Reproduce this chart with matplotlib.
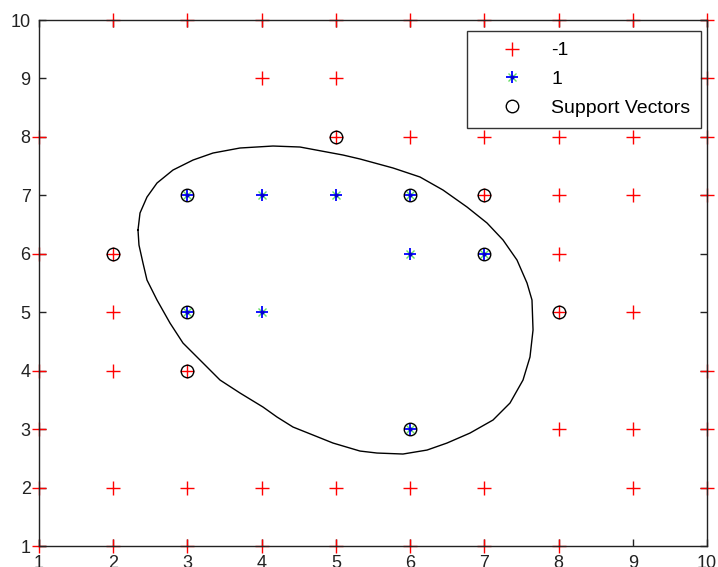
import matplotlib
matplotlib.use("Agg")
import matplotlib.pyplot as plt
from matplotlib.legend_handler import HandlerTuple

plt.rcParams['font.family'] = ['Liberation Sans', 'DejaVu Sans']

# class -1 points
neg_x = [2, 3, 4, 5, 6, 7, 8, 9, 10,
         4, 5, 10,
         1, 5, 6, 7, 8, 9, 10,
         7, 8, 9, 10,
         1, 2, 8,
         2, 8, 9,
         1, 2, 3, 10,
         1, 8, 9, 10,
         1, 2, 3, 4, 5, 6, 7, 9, 10,
         1, 2, 3, 4, 5, 6, 7, 8]
neg_y = [10, 10, 10, 10, 10, 10, 10, 10, 10,
         9, 9, 9,
         8, 8, 8, 8, 8, 8, 8,
         7, 7, 7, 7,
         6, 6, 6,
         5, 5, 5,
         4, 4, 4, 4,
         3, 3, 3, 3,
         2, 2, 2, 2, 2, 2, 2, 2, 2,
         1, 1, 1, 1, 1, 1, 1, 1]

# class 1 points
pos_x = [3, 4, 5, 6, 6, 7, 3, 4, 6]
pos_y = [7, 7, 7, 7, 6, 6, 5, 5, 3]

# support vectors
sv_x = [5, 3, 6, 7, 2, 7, 3, 8, 3, 6]
sv_y = [8, 7, 7, 7, 6, 6, 5, 5, 4, 3]

# decision boundary
bx = [2.334, 2.361, 2.455, 2.590, 2.805, 3.075, 3.344, 3.708, 4.153, 4.516,
      4.880, 5.096, 5.325, 5.770, 6.133, 6.443, 6.767, 7.036, 7.252, 7.440,
      7.575, 7.642, 7.656, 7.615, 7.521, 7.346, 7.117, 6.807, 6.497, 6.228,
      5.904, 5.554, 5.325, 4.961, 4.692, 4.422, 4.207, 4.018, 3.708, 3.439,
      3.210, 2.940, 2.765, 2.590, 2.455, 2.401, 2.347, 2.334]
by = [6.407, 6.698, 6.971, 7.211, 7.433, 7.604, 7.724, 7.810, 7.844, 7.827,
      7.741, 7.690, 7.622, 7.468, 7.314, 7.091, 6.800, 6.527, 6.236, 5.893,
      5.500, 5.209, 4.696, 4.234, 3.840, 3.447, 3.156, 2.933, 2.762, 2.642,
      2.574, 2.591, 2.625, 2.762, 2.899, 3.036, 3.207, 3.378, 3.618, 3.840,
      4.131, 4.473, 4.815, 5.209, 5.551, 5.842, 6.150, 6.407]

fig = plt.figure(figsize=(7.18, 5.67), dpi=100)
ax = fig.add_axes([0.0543, 0.037, 0.9304, 0.9277])

h_neg, = ax.plot(neg_x, neg_y, '+', color='red', ms=10, mew=1, ls='none', clip_on=False)
# matlab style asterisk: blue plus, faint green diagonals, dark centre
h_pos_x, = ax.plot(pos_x, pos_y, 'x', color='#66dd66', ms=6, mew=1, ls='none', clip_on=False)
h_pos, = ax.plot(pos_x, pos_y, '+', color='blue', ms=9, mew=1.3, ls='none', clip_on=False)
h_pos_c, = ax.plot(pos_x, pos_y, 'o', color='#0000cc', ms=3, mew=0, ls='none', clip_on=False)
h_sv, = ax.plot(sv_x, sv_y, 'o', mfc='none', mec='black', ms=9, mew=1, ls='none', clip_on=False)
ax.plot(bx, by, '-', color='black', lw=1)

ax.set_xlim(1, 10)
ax.set_ylim(1, 10)
ax.set_xticks(range(1, 11))
ax.set_yticks(range(1, 11))
ax.tick_params(direction='in', length=5, width=1, top=True, right=True,
               labelsize=13, colors='#222222')
ax.tick_params(axis='x', pad=6.5)
ax.tick_params(axis='y', pad=6)
for s in ax.spines.values():
    s.set_linewidth(1)
    s.set_color('#222222')

leg = ax.legend([h_neg, (h_pos_x, h_pos, h_pos_c), h_sv], ['-1', '1', 'Support Vectors'],
                handler_map={tuple: HandlerTuple(ndivide=1, pad=0)},
                loc='upper right', bbox_to_anchor=(0.991, 0.979), fontsize=14,
                frameon=True, fancybox=False, edgecolor='black', borderpad=0.55,
                handlelength=3.6, handletextpad=0.2, labelspacing=0.58, borderaxespad=0)
leg.get_frame().set_linewidth(1)

fig.savefig('out.png', dpi=100)
